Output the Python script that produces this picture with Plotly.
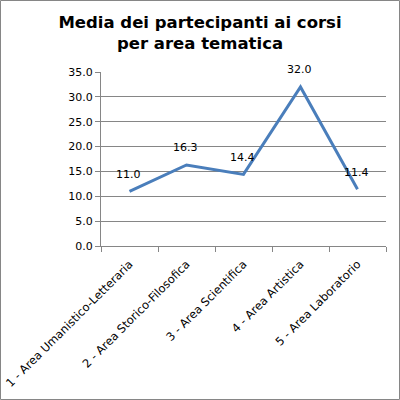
import plotly.graph_objects as go

categories = ["1 - Area Umanistico-Letteraria", "2 - Area Storico-Filosofica",
              "3 - Area Scientifica", "4 - Area Artistica", "5 - Area Laboratorio"]
values = [11.0, 16.3, 14.4, 32.0, 11.4]
y_ticks = [0, 5, 10, 15, 20, 25, 30, 35]

L, R, T, B = 101, 14, 72, 154
W = H = 400
pw, ph = W - L - R, H - T - B

fig = go.Figure()
fig.add_trace(go.Scatter(
    x=categories, y=values, mode="lines",
    line=dict(color="#4a7ebb", width=3), hoverinfo="skip"))

for c, v in zip(categories, values):
    fig.add_annotation(x=c, y=v, text=f"{v:.1f}", showarrow=False, yshift=17, xshift=-1,
                       font=dict(family="DejaVu Sans", size=11, color="black"))

fig.update_layout(
    width=W, height=H, margin=dict(l=L, r=R, t=T, b=B, autoexpand=False),
    paper_bgcolor="white", plot_bgcolor="white", showlegend=False,
    title=dict(text="<b>Media dei partecipanti ai corsi<br>per area tematica</b>",
               x=0.5, xanchor="center", y=1 - 28 / H, yanchor="middle",
               font=dict(family="DejaVu Sans", size=16.5, color="black")),
    xaxis=dict(type="category", tickangle=-45, showgrid=False, automargin=False,
               showline=True, linecolor="#868686", linewidth=1,
               ticks="outside", ticklen=5, tickcolor="#868686", tickson="boundaries",
               ticklabelstandoff=6,
               tickfont=dict(family="DejaVu Sans", size=11.5, color="black"),
               range=[-0.5, 4.5]),
    yaxis=dict(range=[0, 35], tickvals=y_ticks, tickformat=".1f", automargin=False,
               showgrid=True, gridcolor="#868686", gridwidth=1,
               showline=True, linecolor="#868686", linewidth=1,
               ticks="outside", ticklen=5, tickcolor="#868686", zeroline=False,
               tickfont=dict(family="DejaVu Sans", size=11, color="black")),
)

fig.add_shape(type="rect", xref="paper", yref="paper",
              x0=(0.5 - L) / pw, x1=(W - 0.5 - L) / pw,
              y0=(H - B - (H - 0.5)) / ph, y1=(H - B - 0.5) / ph,
              line=dict(color="#868686", width=1), fillcolor="rgba(0,0,0,0)", layer="above")

fig.write_html("out.html", config={"displayModeBar": False},
               post_script="document.body.style.margin='0';")
